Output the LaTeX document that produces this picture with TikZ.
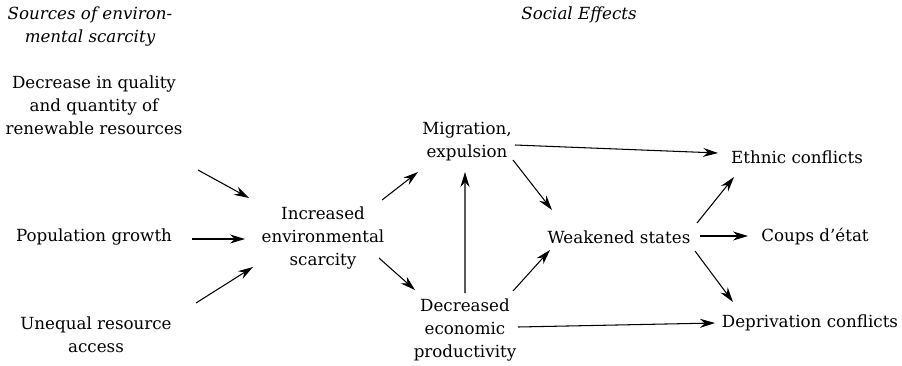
\documentclass[tikz,border=0pt]{standalone}
\usepackage{fontspec}
\setmainfont{DejaVu Serif}
\usetikzlibrary{arrows.meta}

\begin{document}
\begin{tikzpicture}[
    every node/.style={anchor=center, inner sep=1pt, font=\fontsize{9.5}{13.1}\selectfont},
    header/.style={anchor=center, align=center, font=\fontsize{9.5}{13.1}\selectfont\itshape},
    source/.style={anchor=center, align=center},
    effect/.style={anchor=center, align=center},
    arrow/.style={-{Stealth[length=3mm, width=1.8mm]}, line width=0.6pt}
    ]
\useasboundingbox (0,0) rectangle (18.04,-7.30);

% Headings
\node[header] (Sources Label) at (1.80,-0.53) {Sources of environ-\\mental scarcity};
\node[header] (Effects Label) at (11.58,-0.30) {Social Effects};

% Sources
\node[source] (decrease) at (1.88,-2.10) {Decrease in quality\\and quantity of\\renewable resources};
\node[source] (pop) at (1.88,-4.74) {Population growth};
\node[source] (unequal) at (1.92,-6.69) {Unequal resource\\access};
\node[source] (scarcity) at (6.46,-4.76) {Increased\\environmental\\scarcity};

% Social effects
\node[effect] (migration) at (9.34,-2.83) {Migration,\\expulsion};
\node[effect] (econ) at (9.30,-6.60) {Decreased\\economic\\productivity};
\node[effect] (weak) at (12.38,-4.74) {Weakened states};
\node[effect] (ethnic) at (15.94,-3.14) {Ethnic conflicts};
\node[effect] (coups) at (16.30,-4.74) {Coups d'état};
\node[effect] (depriv) at (16.20,-6.46) {Deprivation conflicts};

% Arrows into scarcity
\draw[arrow] ([shift={(2.08,-1.30)}]decrease.center) -- ([shift={(-1.48,0.80)}]scarcity.center);
\draw[arrow] ([shift={(1.96,-0.04)}]pop.center) -- ([shift={(-1.56,-0.02)}]scarcity.center);
\draw[arrow] ([shift={(2.00,0.63)}]unequal.center) -- ([shift={(-1.40,-0.58)}]scarcity.center);

% Arrows out of scarcity
\draw[arrow] ([shift={(1.18,0.76)}]scarcity.center) -- ([shift={(-0.98,-0.61)}]migration.center);
\draw[arrow] ([shift={(1.12,-0.40)}]scarcity.center) -- ([shift={(-1.00,0.80)}]econ.center);
\draw[arrow] ([shift={(0,0.74)}]econ.center) -- ([shift={(-0.04,-0.61)}]migration.center);

% Arrows to the conflicts
\draw[arrow] ([shift={(0.96,-0.07)}]migration.center) -- ([shift={(-1.58,0.08)}]ethnic.center);
\draw[arrow] ([shift={(0.92,-0.37)}]migration.center) -- ([shift={(-1.34,0.54)}]weak.center);
\draw[arrow] ([shift={(0.96,0.78)}]econ.center) -- ([shift={(-1.38,-0.26)}]weak.center);
\draw[arrow] ([shift={(1.06,0.06)}]econ.center) -- ([shift={(-1.90,0)}]depriv.center);
\draw[arrow] ([shift={(1.56,0.28)}]weak.center) -- ([shift={(-1.26,-0.40)}]ethnic.center);
\draw[arrow] ([shift={(1.62,0.02)}]weak.center) -- ([shift={(-1.34,0.02)}]coups.center);
\draw[arrow] ([shift={(1.52,-0.28)}]weak.center) -- ([shift={(-1.54,0.42)}]depriv.center);

\end{tikzpicture}
\end{document}
